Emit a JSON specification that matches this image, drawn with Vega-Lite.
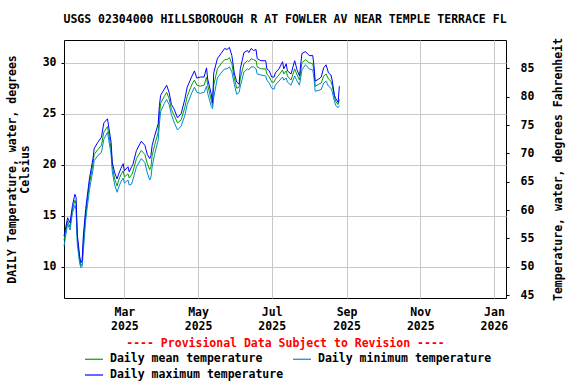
{
  "$schema": "https://vega.github.io/schema/vega-lite/v6.json",
  "width": 442,
  "height": 258,
  "autosize": "none",
  "padding": {"left": 64, "top": 40, "right": 70, "bottom": 86},
  "title": {"text": "USGS 02304000 HILLSBOROUGH R AT FOWLER AV NEAR TEMPLE TERRACE FL", "font": "DejaVu Sans Mono", "fontSize": 11.5, "fontWeight": "bold", "color": "black", "anchor": "middle", "offset": 12},
  "data": {
    "format": {"parse": {"date": "date:'%Y-%m-%d'"}},
    "values": [
      {"date":"2025-01-10","max":13.0,"mean":12.6,"min":12.0},
      {"date":"2025-01-13","max":14.8,"mean":14.5,"min":14.2},
      {"date":"2025-01-15","max":14.3,"mean":13.9,"min":13.6},
      {"date":"2025-01-17","max":16.0,"mean":15.6,"min":15.3},
      {"date":"2025-01-19","max":17.1,"mean":16.5,"min":16.0},
      {"date":"2025-01-20","max":16.8,"mean":16.2,"min":15.6},
      {"date":"2025-01-21","max":13.2,"mean":12.8,"min":12.2},
      {"date":"2025-01-23","max":11.0,"mean":10.6,"min":10.3},
      {"date":"2025-01-24","max":10.4,"mean":10.1,"min":9.9},
      {"date":"2025-01-25","max":10.6,"mean":10.3,"min":10.0},
      {"date":"2025-01-26","max":13.0,"mean":12.4,"min":11.5},
      {"date":"2025-01-28","max":15.7,"mean":15.2,"min":14.6},
      {"date":"2025-01-31","max":18.6,"mean":18.1,"min":17.5},
      {"date":"2025-02-03","max":20.6,"mean":20.1,"min":19.5},
      {"date":"2025-02-04","max":21.6,"mean":21.0,"min":20.4},
      {"date":"2025-02-07","max":22.2,"mean":21.5,"min":20.9},
      {"date":"2025-02-10","max":22.7,"mean":21.9,"min":21.2},
      {"date":"2025-02-12","max":24.1,"mean":23.2,"min":22.5},
      {"date":"2025-02-15","max":24.5,"mean":23.75,"min":23.2},
      {"date":"2025-02-18","max":22.2,"mean":21.6,"min":21.0},
      {"date":"2025-02-19","max":20.2,"mean":19.8,"min":19.3},
      {"date":"2025-02-21","max":19.2,"mean":18.6,"min":18.0},
      {"date":"2025-02-23","max":18.6,"mean":17.9,"min":17.3},
      {"date":"2025-02-24","max":19.0,"mean":18.4,"min":17.7},
      {"date":"2025-02-26","max":19.6,"mean":19.0,"min":18.3},
      {"date":"2025-02-28","max":20.1,"mean":19.4,"min":18.7},
      {"date":"2025-03-01","max":19.4,"mean":18.8,"min":18.2},
      {"date":"2025-03-04","max":19.8,"mean":19.1,"min":18.5},
      {"date":"2025-03-05","max":19.3,"mean":18.7,"min":18.0},
      {"date":"2025-03-07","max":19.8,"mean":19.0,"min":18.1},
      {"date":"2025-03-08","max":20.0,"mean":19.3,"min":18.5},
      {"date":"2025-03-11","max":21.4,"mean":20.6,"min":19.8},
      {"date":"2025-03-15","max":22.3,"mean":21.4,"min":20.6},
      {"date":"2025-03-18","max":21.9,"mean":21.0,"min":20.2},
      {"date":"2025-03-20","max":21.0,"mean":20.1,"min":19.2},
      {"date":"2025-03-22","max":20.6,"mean":19.5,"min":18.5},
      {"date":"2025-03-23","max":20.9,"mean":19.8,"min":18.8},
      {"date":"2025-03-24","max":21.9,"mean":20.9,"min":19.8},
      {"date":"2025-03-26","max":22.8,"mean":21.9,"min":21.0},
      {"date":"2025-03-29","max":24.0,"mean":23.2,"min":22.4},
      {"date":"2025-03-30","max":25.8,"mean":24.9,"min":24.0},
      {"date":"2025-03-31","max":26.8,"mean":26.0,"min":25.2},
      {"date":"2025-04-03","max":27.4,"mean":26.7,"min":26.0},
      {"date":"2025-04-05","max":27.8,"mean":27.1,"min":26.4},
      {"date":"2025-04-07","max":27.1,"mean":26.5,"min":25.9},
      {"date":"2025-04-09","max":25.9,"mean":25.4,"min":24.9},
      {"date":"2025-04-11","max":25.5,"mean":24.9,"min":24.2},
      {"date":"2025-04-14","max":24.6,"mean":24.1,"min":23.4},
      {"date":"2025-04-17","max":25.0,"mean":24.4,"min":23.8},
      {"date":"2025-04-20","max":26.4,"mean":25.6,"min":24.8},
      {"date":"2025-04-22","max":27.6,"mean":26.7,"min":25.9},
      {"date":"2025-04-26","max":28.7,"mean":27.9,"min":27.1},
      {"date":"2025-04-28","max":29.2,"mean":28.3,"min":27.6},
      {"date":"2025-04-30","max":28.5,"mean":27.8,"min":27.1},
      {"date":"2025-05-03","max":28.6,"mean":27.7,"min":27.0},
      {"date":"2025-05-06","max":28.6,"mean":27.8,"min":27.1},
      {"date":"2025-05-08","max":29.5,"mean":28.6,"min":27.7},
      {"date":"2025-05-09","max":28.4,"mean":27.8,"min":27.0},
      {"date":"2025-05-12","max":26.9,"mean":26.3,"min":25.7},
      {"date":"2025-05-13","max":26.1,"mean":25.8,"min":25.5},
      {"date":"2025-05-14","max":29.0,"mean":27.8,"min":26.6},
      {"date":"2025-05-17","max":30.4,"mean":29.4,"min":28.5},
      {"date":"2025-05-20","max":30.9,"mean":29.9,"min":29.0},
      {"date":"2025-05-23","max":31.4,"mean":30.3,"min":29.4},
      {"date":"2025-05-25","max":31.3,"mean":30.3,"min":29.4},
      {"date":"2025-05-27","max":31.5,"mean":30.5,"min":29.6},
      {"date":"2025-05-29","max":30.7,"mean":29.9,"min":29.1},
      {"date":"2025-05-31","max":29.0,"mean":28.5,"min":27.9},
      {"date":"2025-06-02","max":28.1,"mean":27.5,"min":26.9},
      {"date":"2025-06-04","max":27.9,"mean":27.6,"min":27.1},
      {"date":"2025-06-05","max":29.4,"mean":28.5,"min":27.7},
      {"date":"2025-06-08","max":31.0,"mean":29.9,"min":29.1},
      {"date":"2025-06-11","max":31.2,"mean":30.2,"min":29.4},
      {"date":"2025-06-12","max":31.0,"mean":30.1,"min":29.3},
      {"date":"2025-06-14","max":31.4,"mean":30.4,"min":29.6},
      {"date":"2025-06-16","max":31.2,"mean":30.3,"min":29.6},
      {"date":"2025-06-18","max":31.3,"mean":30.2,"min":29.4},
      {"date":"2025-06-19","max":30.4,"mean":29.6,"min":28.9},
      {"date":"2025-06-22","max":30.2,"mean":29.4,"min":28.8},
      {"date":"2025-06-26","max":30.2,"mean":29.4,"min":28.7},
      {"date":"2025-06-27","max":29.4,"mean":28.9,"min":28.3},
      {"date":"2025-06-29","max":29.2,"mean":28.6,"min":28.0},
      {"date":"2025-07-01","max":28.6,"mean":28.1,"min":27.5},
      {"date":"2025-07-03","max":28.6,"mean":28.1,"min":27.4},
      {"date":"2025-07-04","max":29.0,"mean":28.4,"min":27.8},
      {"date":"2025-07-07","max":29.4,"mean":28.8,"min":28.2},
      {"date":"2025-07-10","max":30.1,"mean":29.3,"min":28.6},
      {"date":"2025-07-11","max":29.4,"mean":28.9,"min":28.3},
      {"date":"2025-07-13","max":29.9,"mean":29.2,"min":28.5},
      {"date":"2025-07-14","max":29.2,"mean":28.7,"min":28.1},
      {"date":"2025-07-17","max":28.9,"mean":28.3,"min":27.8},
      {"date":"2025-07-20","max":30.2,"mean":29.4,"min":28.7},
      {"date":"2025-07-22","max":29.3,"mean":28.8,"min":28.2},
      {"date":"2025-07-24","max":28.7,"mean":28.3,"min":27.8},
      {"date":"2025-07-26","max":30.9,"mean":30.0,"min":29.3},
      {"date":"2025-07-29","max":31.1,"mean":30.3,"min":29.8},
      {"date":"2025-08-01","max":30.7,"mean":30.0,"min":29.4},
      {"date":"2025-08-04","max":30.7,"mean":29.9,"min":29.3},
      {"date":"2025-08-05","max":29.7,"mean":29.2,"min":28.5},
      {"date":"2025-08-06","max":28.2,"mean":27.7,"min":27.2},
      {"date":"2025-08-09","max":28.4,"mean":27.9,"min":27.3},
      {"date":"2025-08-11","max":28.6,"mean":28.0,"min":27.4},
      {"date":"2025-08-13","max":29.5,"mean":28.7,"min":28.0},
      {"date":"2025-08-15","max":29.8,"mean":28.9,"min":28.2},
      {"date":"2025-08-17","max":29.0,"mean":28.4,"min":27.7},
      {"date":"2025-08-19","max":28.8,"mean":28.2,"min":27.5},
      {"date":"2025-08-20","max":28.3,"mean":27.8,"min":27.2},
      {"date":"2025-08-22","max":26.8,"mean":26.6,"min":26.2},
      {"date":"2025-08-23","max":26.5,"mean":26.2,"min":25.8},
      {"date":"2025-08-25","max":26.1,"mean":25.9,"min":25.6},
      {"date":"2025-08-26","max":27.7,"mean":26.4,"min":25.8}
    ]
  },
  "transform": [{"fold": ["mean", "min", "max"], "as": ["series", "temp"]}],
  "resolve": {"axis": {"y": "independent"}},
  "layer": [
    {
      "mark": {"type": "line", "strokeWidth": 1},
      "encoding": {
        "x": {
          "field": "date", "type": "temporal",
          "scale": {"domain": [{"year": 2025, "month": 1, "date": 10}, {"year": 2026, "month": 1, "date": 11}]},
          "axis": {
            "values": [{"year": 2025, "month": 3, "date": 1}, {"year": 2025, "month": 5, "date": 1}, {"year": 2025, "month": 7, "date": 1}, {"year": 2025, "month": 9, "date": 1}, {"year": 2025, "month": 11, "date": 1}, {"year": 2026, "month": 1, "date": 1}],
            "labelExpr": "[timeFormat(datum.value, '%b'), timeFormat(datum.value, '%Y')]",
            "labelAlign": "center", "labelBaseline": "top", "labelPadding": 8, "labelLineHeight": 14,
            "labelFlush": false, "labelOverlap": false,
            "ticks": false, "domain": false, "grid": true, "gridColor": "#c8c8c8",
            "title": "---- Provisional Data Subject to Revision ----", "titleColor": "red", "titlePadding": 6
          }
        },
        "y": {
          "field": "temp", "type": "quantitative",
          "scale": {"domain": [6.93, 32.23], "nice": false, "zero": false},
          "axis": {
            "orient": "left", "values": [10, 15, 20, 25, 30], "grid": true, "gridColor": "#c8c8c8",
            "domain": false, "tickSize": 3, "tickColor": "black", "labelPadding": 5,
            "title": ["DAILY Temperature, water, degrees", "Celsius"], "titlePadding": 12, "titleLineHeight": 13
          }
        },
        "color": {
          "field": "series", "type": "nominal",
          "scale": {"domain": ["mean", "min", "max"], "range": ["#00a000", "#0088d0", "#0000ff"]},
          "legend": {
            "orient": "none", "legendX": 20, "legendY": 309, "columns": 2, "direction": "horizontal", "title": null,
            "labelExpr": "datum.label == 'mean' ? 'Daily mean temperature' : datum.label == 'min' ? 'Daily minimum temperature' : 'Daily maximum temperature'",
            "symbolType": "stroke", "symbolSize": 324, "symbolStrokeWidth": 1.2,
            "rowPadding": -1, "columnPadding": 6, "labelOffset": 6, "labelLimit": 0
          }
        }
      }
    },
    {
      "mark": {"type": "rule", "opacity": 0},
      "encoding": {
        "y": {
          "field": "temp", "type": "quantitative",
          "axis": {
            "orient": "right", "grid": false, "domain": false, "tickSize": 3, "tickColor": "black",
            "values": [7.2222, 10, 12.7778, 15.5556, 18.3333, 21.1111, 23.8889, 26.6667, 29.4444],
            "labelExpr": "format(datum.value * 9 / 5 + 32, '.0f')", "labelPadding": 11,
            "title": "Temperature, water, degrees Fahrenheit", "titleAngle": 270, "titlePadding": 30
          }
        }
      }
    }
  ],
  "config": {
    "font": "DejaVu Sans Mono",
    "view": {"stroke": "black", "strokeWidth": 1},
    "axis": {
      "labelFont": "DejaVu Sans Mono", "labelFontSize": 11.5, "labelFontWeight": "bold", "labelColor": "black",
      "titleFont": "DejaVu Sans Mono", "titleFontSize": 11.5, "titleFontWeight": "bold", "titleColor": "black"
    },
    "legend": {
      "labelFont": "DejaVu Sans Mono", "labelFontSize": 11.5, "labelFontWeight": "bold", "labelColor": "black"
    }
  }
}
